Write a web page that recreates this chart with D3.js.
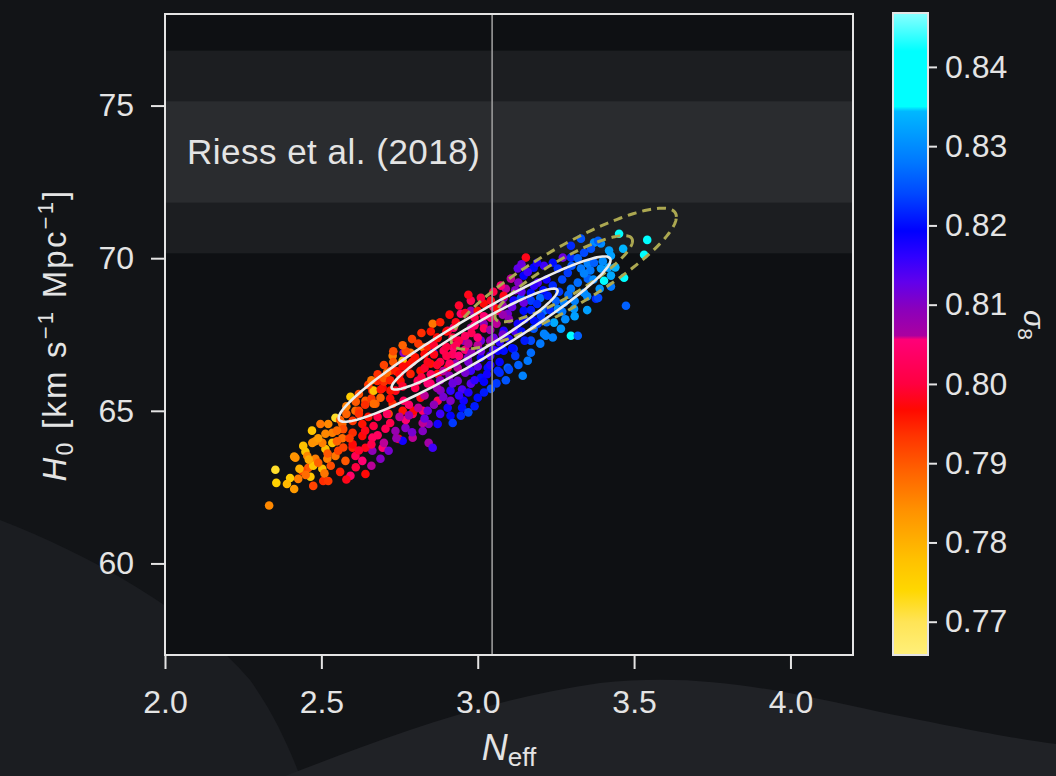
<!DOCTYPE html>
<html>
<head>
<meta charset="utf-8">
<script src="https://cdn.jsdelivr.net/npm/d3@7"></script>
<style>
  body { margin: 0; background: #121417; }
  svg { display: block; }
  text { font-family: "Liberation Sans", Arial, sans-serif; }
</style>
</head>
<body>
<div id="chart"></div>
<script>
// --- data: [N_eff, H0, sigma8] ---
const tailSamples = [
  [2.333,61.90,0.785],[2.353,63.07,0.772],[2.356,62.64,0.775],[2.400,62.80,0.776],[2.413,62.44,0.783],
  [2.413,63.50,0.783],[2.449,63.66,0.777],[2.470,64.35,0.777],[2.458,63.13,0.790],[2.474,62.54,0.792],
  [2.426,62.77,0.786],[2.465,62.84,0.777],[2.506,62.70,0.794],[2.522,62.70,0.793],[2.503,63.10,0.778],
  [2.513,63.75,0.778],[2.480,64.00,0.784],[2.545,64.77,0.772],[2.593,65.46,0.776],[2.593,62.87,0.804],
  [2.641,62.93,0.797],[2.545,63.52,0.787],[2.577,63.36,0.790],[2.609,63.52,0.802],[2.631,63.36,0.805],
  [2.689,63.43,0.810],[2.663,63.69,0.809],[2.641,63.79,0.798],[2.600,63.79,0.795],[2.567,64.10,0.788],
  [2.535,64.28,0.786],[2.513,64.25,0.785],[2.503,63.95,0.786],[2.535,63.95,0.778],[2.554,63.69,0.792],
  [2.696,63.79,0.805],[2.715,63.69,0.811],[2.747,64.08,0.797],[2.663,64.12,0.803],[2.631,64.18,0.797],
  [2.600,64.28,0.794],[2.567,64.57,0.788],[2.600,64.67,0.793],[2.631,64.57,0.796],[2.667,64.50,0.800],
  [2.705,64.41,0.802],[2.737,64.34,0.808],[2.769,64.44,0.810],[2.792,64.12,0.806],[2.824,64.34,0.810],
  [2.843,63.95,0.807],[2.760,64.02,0.818],[2.641,65.33,0.790],[2.609,65.00,0.788],[2.673,65.23,0.789],
  [2.663,65.66,0.795],[2.696,65.75,0.797],[2.737,65.66,0.798],[2.728,65.23,0.794],[2.715,64.90,0.792],
  [2.760,65.00,0.796],[2.792,64.90,0.802],[2.824,65.00,0.804],[2.843,64.57,0.810],[2.856,63.79,0.815],
  [2.497,64.57,0.787],[2.522,64.57,0.785],[2.471,63.95,0.784],[2.442,63.85,0.778],[2.417,63.46,0.784],
  [2.455,63.52,0.785],[2.481,63.43,0.786],[2.519,63.43,0.786],[2.439,63.03,0.792],[2.474,63.20,0.777],
  [2.700,65.95,0.794],[2.720,65.40,0.797],[2.660,65.40,0.793],[2.620,65.00,0.792],[2.650,64.80,0.796],
  [2.580,64.90,0.789],[2.570,64.40,0.791],[2.600,63.90,0.797],[2.550,64.00,0.789],[2.680,64.80,0.801],
  [2.450,62.90,0.788],[2.490,63.30,0.789],[2.520,63.60,0.790],[2.530,63.20,0.791],[2.560,63.00,0.795],
  [2.570,63.80,0.792],[2.590,64.10,0.793],[2.620,63.70,0.799],[2.640,64.35,0.798],[2.660,63.90,0.801],
  [2.680,64.20,0.803],[2.700,63.95,0.806],[2.720,64.60,0.801],[2.740,64.10,0.808],[2.770,64.70,0.805],
  [2.790,64.30,0.811],[2.620,64.90,0.794],[2.550,64.35,0.788],[2.490,64.10,0.783],[2.460,63.40,0.781],
  [2.430,63.10,0.780],[2.390,62.60,0.779],[2.510,62.95,0.787],[2.610,63.15,0.800],[2.660,63.20,0.806],
  [2.580,62.75,0.798]
];

const coreSamples = [
  [2.856,67.85,0.787],[2.728,66.80,0.786],[2.760,66.64,0.778],[2.785,66.90,0.787],[2.763,66.90,0.810],
  [2.827,67.07,0.787],[2.872,67.39,0.796],[2.904,67.62,0.803],[2.923,67.72,0.804],[2.946,68.18,0.804],
  [2.978,68.28,0.808],[3.000,68.28,0.797],[3.019,68.51,0.797],[3.042,68.61,0.798],[2.978,68.61,0.802],
  [3.083,68.70,0.810],[3.115,68.61,0.818],[3.147,68.28,0.820],[3.170,68.61,0.823],[3.200,68.70,0.827],
  [3.212,68.28,0.828],[3.192,67.85,0.823],[3.212,67.52,0.829],[3.170,67.30,0.824],[3.160,66.64,0.828],
  [3.144,66.15,0.829],[3.115,67.03,0.822],[3.083,66.97,0.820],[3.096,66.41,0.826],[3.064,66.31,0.822],
  [3.042,65.72,0.824],[3.000,65.43,0.820],[2.955,65.33,0.818],[2.946,64.84,0.822],[2.913,64.84,0.819],
  [2.904,65.10,0.818],[2.872,64.57,0.818],[2.840,65.00,0.812],[2.824,64.60,0.806],[2.795,65.00,0.797],
  [2.763,65.33,0.803],[2.721,65.66,0.796],[2.689,65.43,0.789],[2.667,65.23,0.788],[2.667,65.66,0.778],
  [2.679,65.98,0.795],[2.872,66.21,0.797],[2.904,66.41,0.798],[2.849,66.54,0.796],[2.817,66.31,0.796],
  [2.785,66.21,0.795],[2.753,65.98,0.796],[2.808,65.98,0.802],[2.849,65.89,0.804],[2.881,65.66,0.810],
  [2.913,65.66,0.816],[2.936,65.98,0.811],[2.936,66.41,0.806],[2.968,66.74,0.810],[2.978,66.31,0.815],
  [3.010,66.74,0.818],[3.010,67.30,0.812],[2.955,67.30,0.809],[2.923,67.07,0.805],[2.891,66.97,0.802],
  [2.859,66.90,0.818],[2.978,67.72,0.806],[3.019,67.85,0.809],[3.042,68.05,0.805],[3.064,68.28,0.803],
  [3.096,68.18,0.811],[3.128,67.85,0.818],[3.083,67.62,0.817],[3.051,67.39,0.812],[3.064,66.97,0.819],
  [3.032,66.41,0.820],[3.010,66.08,0.820],[2.978,65.89,0.813],[2.817,65.43,0.798],[2.872,65.33,0.803],
  [2.913,65.33,0.810],[2.721,66.31,0.795],[2.699,66.08,0.790],[3.138,68.70,0.825],
  [2.780,66.50,0.797],[2.800,66.75,0.796],[2.830,66.40,0.799],[2.860,66.85,0.798],[2.880,66.60,0.801],
  [2.900,67.10,0.800],[2.920,66.85,0.803],[2.940,67.30,0.801],[2.960,67.00,0.805],[2.980,67.55,0.802],
  [3.000,67.15,0.806],[3.020,67.70,0.803],[3.040,67.30,0.808],[3.060,67.85,0.806],[3.080,67.50,0.811],
  [3.100,68.00,0.809],[3.120,67.60,0.814],[2.850,66.20,0.803],[2.890,66.30,0.806],[2.930,66.55,0.808],
  [2.970,66.60,0.811],[3.010,66.95,0.812],[3.050,67.00,0.815],[2.740,66.30,0.795],[2.760,65.80,0.799],
  [2.800,65.75,0.801],[2.840,65.90,0.805],[2.710,64.90,0.803],[2.750,64.80,0.806],[2.780,65.20,0.804],
  [2.880,66.00,0.809],[2.950,65.70,0.814],[2.990,66.00,0.816],[3.030,66.20,0.818],[3.070,66.60,0.819],
  [3.110,67.05,0.820],[3.010,68.70,0.800],[2.960,68.20,0.799],[2.930,67.90,0.798],[2.900,67.60,0.797],
  [2.870,67.40,0.797],[2.840,67.10,0.795],[2.810,67.20,0.793],[2.770,66.95,0.792],[2.730,66.60,0.790],
  [2.950,65.10,0.820],[3.020,65.60,0.821],[3.060,65.90,0.823],[2.880,64.90,0.815],[2.830,64.75,0.812],
  [3.090,66.00,0.825],[3.130,66.50,0.826],[3.050,68.90,0.801],[3.090,69.00,0.806],[3.110,68.40,0.812],
  [2.620,65.55,0.791],[2.650,65.85,0.793],[2.680,66.20,0.794],[2.700,66.50,0.792],[2.730,66.95,0.791],
  [2.750,66.20,0.797],[2.760,67.15,0.789],[2.790,67.35,0.792],[2.820,67.55,0.794],[2.850,67.60,0.796],
  [2.880,67.90,0.795],[2.910,68.15,0.797],[2.940,68.45,0.799],[2.970,68.80,0.798],[2.990,68.05,0.801],
  [2.920,67.40,0.800],[2.860,67.15,0.799],[2.830,66.85,0.797],[2.790,66.60,0.796],[2.760,66.45,0.797],
  [2.720,66.00,0.795],[2.690,65.70,0.796],[2.640,65.20,0.794],[2.610,65.30,0.790],[2.580,65.15,0.786],
  [2.560,64.70,0.789],[2.710,66.25,0.788],[2.660,66.00,0.787],
  [2.860,65.20,0.809],[2.890,65.45,0.811],[2.920,65.90,0.812],[2.940,65.50,0.816],[2.970,65.60,0.817],
  [2.990,65.15,0.821],[3.020,65.95,0.819],[3.040,66.50,0.817],[3.070,66.25,0.822],[3.100,66.35,0.824],
  [3.120,66.80,0.823],[2.960,66.25,0.811],[2.910,66.15,0.809],[2.870,65.75,0.808],[2.830,65.50,0.806],
  [2.810,65.10,0.806],[2.780,64.85,0.808],[3.000,66.45,0.813],[3.040,66.80,0.815],[2.980,66.90,0.809],
  [3.070,67.25,0.816],[3.100,67.35,0.817],[3.140,67.60,0.820],[2.920,64.60,0.823],[2.970,64.95,0.824],
  [2.870,66.50,0.799],[2.900,66.80,0.801],[2.930,67.15,0.802],[2.960,67.45,0.803],[2.990,67.80,0.804],
  [3.020,68.10,0.805],[3.050,68.40,0.804],[3.080,68.15,0.808],[3.040,67.65,0.807],[3.000,67.40,0.805],
  [2.970,67.20,0.806],[2.940,66.80,0.805],[2.910,66.55,0.803],[2.840,66.60,0.798],[2.820,66.10,0.800]
];

const headSamples = [
  [3.154,70.02,0.798],[3.452,70.80,0.838],[3.542,70.60,0.840],[3.532,70.11,0.840],[3.468,69.36,0.838],
  [3.474,68.44,0.826],[3.465,70.31,0.834],[3.426,70.08,0.832],[3.378,68.67,0.822],[3.404,69.26,0.836],
  [3.394,70.48,0.830],[3.372,70.51,0.830],[3.362,70.31,0.825],[3.340,70.18,0.824],[3.298,70.02,0.822],
  [3.272,70.02,0.812],[3.240,69.85,0.820],[3.256,69.66,0.822],[3.288,69.52,0.823],[3.330,69.66,0.828],
  [3.352,69.82,0.829],[3.372,69.85,0.826],[3.394,69.66,0.831],[3.417,69.69,0.832],[3.426,69.43,0.833],
  [3.352,69.33,0.826],[3.320,69.20,0.827],[3.298,69.00,0.828],[3.340,68.87,0.830],[3.276,68.54,0.829],
  [3.256,68.34,0.830],[3.308,68.34,0.831],[3.244,67.89,0.833],[3.266,67.69,0.831],[3.298,67.46,0.837],
  [3.320,67.46,0.826],[3.218,67.46,0.829],[3.179,67.69,0.825],[3.202,68.11,0.823],[3.224,68.77,0.821],
  [3.192,69.20,0.814],[3.147,69.43,0.819],[3.128,69.66,0.813],[3.106,69.33,0.806],[3.083,68.77,0.798],
  [3.064,68.34,0.796],[3.074,69.10,0.805],[3.170,68.87,0.820],[3.147,68.54,0.812],[3.298,70.41,0.822],
  [3.330,70.64,0.825],[3.385,70.57,0.826],[3.212,69.75,0.815],[3.179,69.69,0.820],[3.385,68.70,0.824],
  [3.426,69.07,0.828],
  [3.150,67.30,0.821],[3.180,67.95,0.820],[3.230,68.30,0.822],[3.260,68.90,0.823],[3.220,69.30,0.818],
  [3.180,69.10,0.816],[3.140,68.90,0.813],[3.130,69.20,0.810],[3.170,66.90,0.827],[3.200,67.20,0.828],
  [3.240,67.40,0.829],[3.280,68.00,0.830],[3.310,68.60,0.829],[3.350,68.30,0.832],[3.360,69.60,0.828],
  [3.400,69.90,0.830],[3.440,69.70,0.834],[3.420,70.25,0.832],
  [3.150,68.00,0.819],[3.170,68.30,0.821],[3.190,68.50,0.822],[3.210,68.95,0.820],[3.240,69.10,0.822],
  [3.270,69.30,0.824],[3.300,69.75,0.825],[3.320,70.00,0.826],[3.340,69.50,0.829],[3.370,69.30,0.830],
  [3.390,69.00,0.831],[3.290,68.80,0.827],[3.250,68.60,0.826],[3.220,67.90,0.827],[3.270,68.25,0.828],
  [3.310,68.10,0.832],[3.350,68.75,0.830],[3.160,69.55,0.815],[3.190,69.85,0.817],[3.120,68.95,0.810],
  [3.140,69.80,0.812],[3.080,68.45,0.808]
];

// contours: [N_eff centre, H0 centre, sigma N_eff, sigma H0, correlation]
const cmbContour = [2.99, 67.35, 0.175, 1.09, 0.955];
const combinedContour = [3.275, 69.33, 0.145, 0.93, 0.875];
const contourLevels = [2.30, 6.17]; // delta chi^2 for 68% / 95%

const riessH0 = [73.48, 1.66];
const neffStandard = 3.046;

const xTicks = [2.0, 2.5, 3.0, 3.5, 4.0];
const yTicks = [60, 65, 70, 75];
const cbarTicks = [0.77, 0.78, 0.79, 0.80, 0.81, 0.82, 0.83, 0.84];

// colormap stops (sigma8 -> colour)
const cmapValues = [0.7658, 0.770, 0.774, 0.778, 0.784, 0.789, 0.7935, 0.7967, 0.800, 0.8056, 0.8061,
  0.8095, 0.8129, 0.816, 0.8193, 0.824, 0.828, 0.8344, 0.8350, 0.842, 0.8468];
const cmapColors = ["#fff07a", "#ffe456", "#ffd700", "#ffc000", "#ff9200", "#ff6200", "#ff3300", "#ff0a00",
  "#ff0040", "#ff0078", "#aa00a0", "#8a00bc", "#6000ec", "#3000ff", "#0000ff", "#0048ff", "#0078ff",
  "#00b8ff", "#00ffff", "#00ffff", "#8affff"];

const W = 1056, H = 776;

const svg = d3.select("#chart").append("svg")
  .attr("width", W).attr("height", H);

// slide background
svg.append("rect").attr("width", W).attr("height", H).attr("fill", "#121417");
svg.append("path")
  .attr("d", "M0,520 C90,555 190,610 250,680 C275,715 290,750 300,776 L0,776 Z")
  .attr("fill", "#1b1d21");
svg.append("path")
  .attr("d", "M285,776 C380,740 480,700 600,683 C700,672 780,690 880,712 C960,728 1010,738 1056,744 L1056,776 Z")
  .attr("fill", "#202226");

const x = d3.scaleLinear().domain([2.0, 4.2]).range([165, 853]);
const y = d3.scaleLinear().domain([57, 78]).range([655, 14]);
const cscale = d3.scaleLinear().domain(cmapValues).range(cmapColors).clamp(true);

const plot = svg.append("g");

plot.append("rect")
  .attr("x", x(2.0)).attr("y", y(78))
  .attr("width", x(4.2) - x(2.0)).attr("height", y(57) - y(78))
  .attr("fill", "#0e1013");

// Riess et al. bands (2 sigma, 1 sigma)
[[2, "#1c1e21"], [1, "#2a2c2f"]].forEach(([n, col]) => {
  plot.append("rect")
    .attr("x", x(2.0))
    .attr("y", y(riessH0[0] + n * riessH0[1]))
    .attr("width", x(4.2) - x(2.0))
    .attr("height", y(riessH0[0] - n * riessH0[1]) - y(riessH0[0] + n * riessH0[1]))
    .attr("fill", col);
});

plot.append("text")
  .attr("x", x(2.07)).attr("y", y(riessH0[0]))
  .attr("dy", "0.35em")
  .attr("fill", "#e4e4e4")
  .attr("font-size", 35)
  .attr("letter-spacing", 0.5)
  .text("Riess et al. (2018)");

// samples
const samples = tailSamples.concat(coreSamples, headSamples);
plot.selectAll("circle.sample")
  .data(samples)
  .enter()
    .append("circle")
    .attr("class", "sample")
    .attr("cx", d => x(d[0]))
    .attr("cy", d => y(d[1]))
    .attr("r", 4.3)
    .attr("fill", d => cscale(d[2]));

// N_eff = 3.046
plot.append("line")
  .attr("x1", x(neffStandard)).attr("x2", x(neffStandard))
  .attr("y1", y(78)).attr("y2", y(57))
  .attr("stroke", "#9a9a9a").attr("stroke-width", 1.6);

// confidence ellipses
function ellipse(c, dchi2) {
  const k = Math.sqrt(dchi2);
  return d3.range(0, 361, 2).map(deg => {
    const t = deg * Math.PI / 180;
    return [
      c[0] + k * c[2] * Math.cos(t),
      c[1] + k * c[3] * (c[4] * Math.cos(t) + Math.sqrt(1 - c[4] * c[4]) * Math.sin(t))
    ];
  });
}
const line = d3.line().x(d => x(d[0])).y(d => y(d[1])).curve(d3.curveLinearClosed);

contourLevels.forEach(l => {
  plot.append("path")
    .attr("d", line(ellipse(combinedContour, l)))
    .attr("fill", "none")
    .attr("stroke", "#aca851")
    .attr("stroke-width", 3)
    .attr("stroke-dasharray", "9,6");
});
contourLevels.forEach(l => {
  plot.append("path")
    .attr("d", line(ellipse(cmbContour, l)))
    .attr("fill", "none")
    .attr("stroke", "#ececec")
    .attr("stroke-width", 2.6);
});

// frame
plot.append("rect")
  .attr("x", x(2.0)).attr("y", y(78))
  .attr("width", x(4.2) - x(2.0)).attr("height", y(57) - y(78))
  .attr("fill", "none")
  .attr("stroke", "#e4e4e4").attr("stroke-width", 2);

// axes
function styleAxis(g) {
  g.select(".domain").remove();
  g.selectAll(".tick line").attr("stroke", "#e4e4e4").attr("stroke-width", 2);
  g.selectAll(".tick text").attr("fill", "#e4e4e4").attr("font-size", 32)
    .attr("font-family", "Liberation Sans, Arial, sans-serif");
}

svg.append("g")
  .attr("transform", `translate(0,${y(57)})`)
  .call(d3.axisBottom(x).tickValues(xTicks).tickFormat(d3.format(".1f")).tickSize(14).tickPadding(21))
  .call(styleAxis);

svg.append("g")
  .attr("transform", `translate(${x(2.0)},0)`)
  .call(d3.axisLeft(y).tickValues(yTicks).tickFormat(d3.format("d")).tickSize(14).tickPadding(17))
  .call(styleAxis);

// axis labels
const xl = svg.append("text")
  .attr("x", x(3.1)).attr("y", 760)
  .attr("text-anchor", "middle")
  .attr("fill", "#e4e4e4")
  .attr("font-size", 36);
xl.append("tspan").attr("font-style", "italic").text("N");
xl.append("tspan").attr("font-size", 26).attr("dy", 6).text("eff");

const yl = svg.append("text")
  .attr("transform", "translate(66,335) rotate(-90)")
  .attr("text-anchor", "middle")
  .attr("fill", "#e4e4e4")
  .attr("font-size", 33)
  .attr("letter-spacing", 2.2);
yl.append("tspan").attr("font-style", "italic").text("H");
yl.append("tspan").attr("font-size", 23).attr("dy", 7).text("0");
yl.append("tspan").attr("dy", -7).text(" [km s");
yl.append("tspan").attr("font-size", 22).attr("dy", -13).text("−1");
yl.append("tspan").attr("dy", 13).text(" Mpc");
yl.append("tspan").attr("font-size", 22).attr("dy", -13).text("−1");
yl.append("tspan").attr("dy", 13).text("]");

// colorbar
const cbar = d3.scaleLinear().domain([0.7658, 0.8468]).range([655, 13]);
const grad = svg.append("defs").append("linearGradient")
  .attr("id", "cmap").attr("x1", 0).attr("x2", 0).attr("y1", 1).attr("y2", 0);
cmapValues.forEach((v, i) => {
  grad.append("stop")
    .attr("offset", (v - 0.7658) / (0.8468 - 0.7658))
    .attr("stop-color", cmapColors[i]);
});
svg.append("rect")
  .attr("x", 893).attr("y", cbar(0.8468))
  .attr("width", 35).attr("height", cbar(0.7658) - cbar(0.8468))
  .attr("fill", "url(#cmap)")
  .attr("stroke", "#e4e4e4").attr("stroke-width", 2);

svg.append("g")
  .attr("transform", "translate(928,0)")
  .call(d3.axisRight(cbar).tickValues(cbarTicks).tickFormat(d3.format(".2f")).tickSize(9).tickPadding(8))
  .call(styleAxis);

svg.append("text")
  .attr("transform", "translate(1024,325) rotate(90)")
  .attr("text-anchor", "middle")
  .attr("fill", "#e4e4e4")
  .attr("font-size", 30)
  .call(t => {
    t.append("tspan").attr("font-style", "italic").text("σ");
    t.append("tspan").attr("font-size", 21).attr("dy", 6).text("8");
  });
</script>
</body>
</html>
